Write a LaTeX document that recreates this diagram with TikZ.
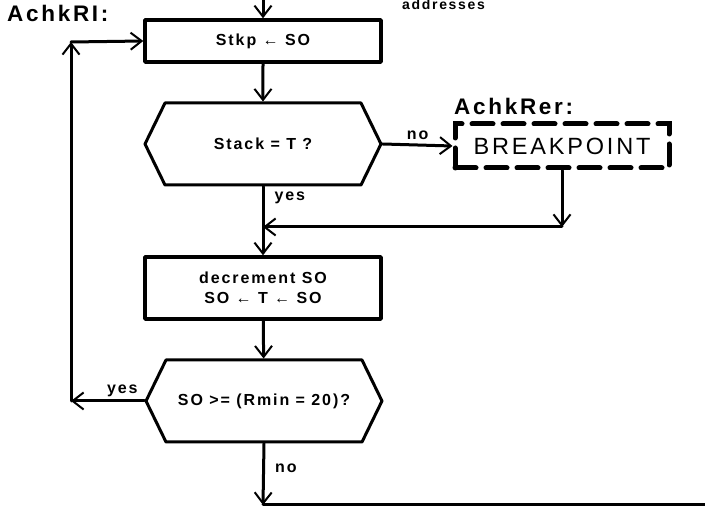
\documentclass[tikz,border=0pt]{standalone}
\usepackage{fontspec}
\setmainfont{Liberation Sans}
\newfontfamily\chartfont{Liberation Sans}[LetterSpace=12]
\usetikzlibrary{arrows.meta,shapes.symbols}

\tikzset{
  flow/.style={line width=3pt, -{Straight Barb[length=11pt,width=17pt,line width=2pt]}},
  plain/.style={line width=3pt},
  procbox/.style={draw, line width=3.5pt, minimum width=236pt, inner sep=0pt, align=center,
    font=\chartfont\bfseries\fontsize{16}{20}\selectfont},
  testbox/.style={draw, line width=3pt, signal, signal to=east and west, signal pointer angle=128,
    minimum width=236pt, minimum height=82pt, inner sep=0pt,
    font=\chartfont\bfseries\fontsize{16}{20}\selectfont},
  brkbox/.style={draw, line width=5pt, line join=miter, dash pattern=on 21pt off 10pt,
    minimum width=214pt, minimum height=44pt, inner sep=0pt,
    font=\chartfont\fontsize{23.5}{26}\selectfont},
  tag/.style={inner sep=0pt, font=\chartfont\bfseries\fontsize{16}{18}\selectfont},
  entry/.style={inner sep=0pt, font=\chartfont\bfseries\fontsize{22.5}{26}\selectfont},
}

\begin{document}
\begin{tikzpicture}[x=1pt, y=-1pt, line cap=round, line join=round]

  %% ════ boxes ════
  \node[procbox, minimum height=42pt] (stkp) at (263,41) {Stkp ← SO};
  \node[testbox] (stack) at (263,144) {Stack = T ?};
  \node[brkbox] (brk) at (562,146) {BREAKPOINT};
  \node[procbox, minimum height=62pt] (decr) at (263,288) {decrement SO\\SO ← T ← SO};
  \node[testbox] (rmin) at (264,401) {SO >= (Rmin = 20)?};

  %% ════ entry labels ════
  \node[entry, anchor=base west] (achkri) at (7,22) {AchkRI:};
  \node[entry, anchor=base west] (achkrer) at (454,115) {AchkRer:};
  \node[tag, anchor=base west, font=\chartfont\bfseries\fontsize{14}{16}\selectfont] (addr) at (402,10) {addresses};

  %% ════ free ends ════
  \coordinate (top) at (263,-5);
  \coordinate (join) at (263,227);
  \coordinate (loopbot) at (71,401);
  \coordinate (looptop) at (71,42);
  \coordinate (exit) at (263,505);
  \coordinate (exitend) at (710,505);

  %% ════ connectors ════
  \draw[flow] (top) -- (stkp.north);
  \draw[flow] (stkp) -- (stack);
  \draw[flow] (stack.east) -- (brk.west) node[tag, midway, above=4pt] (no1) {no};
  \draw[flow] (brk.south) -- (brk.south |- join);
  \draw[flow] (brk.south |- join) -- (join);
  \draw[flow] (stack.south) -- (decr.north) node[tag, pos=0.17, anchor=west, xshift=10pt] (yes1) {yes};
  \draw[flow] (decr) -- (rmin);
  \draw[flow] (rmin.west) -- (loopbot) node[tag, pos=0.3, above=3pt] (yes2) {yes};
  \draw[flow] (loopbot) -- (looptop);
  \draw[flow] (looptop) -- (stkp.west);
  \draw[flow] (rmin.south) -- (exit) node[tag, pos=0.4, anchor=west, xshift=10pt] (no2) {no};
  \draw[plain] (exit) -- (exitend);

  \pgfresetboundingbox
  \path[use as bounding box] (0,0) rectangle (705,518);
\end{tikzpicture}
\end{document}
